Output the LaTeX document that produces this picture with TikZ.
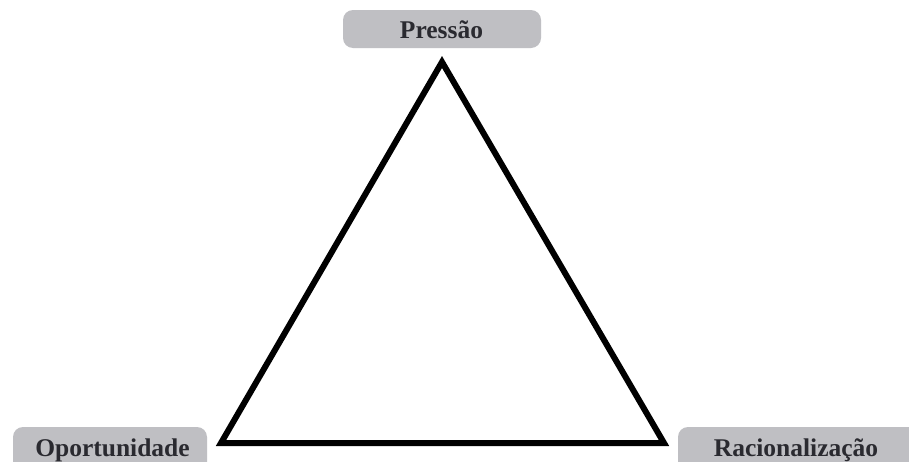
\documentclass[tikz,border=0pt]{standalone}
\usepackage{fontspec}
\setmainfont{Liberation Serif}
\definecolor{boxgray}{HTML}{BFBFC3}
\definecolor{txt}{HTML}{2A2A30}
\begin{document}
\begin{tikzpicture}[x=1pt,y=-1pt,
  labelbox/.style={fill=boxgray,rounded corners=10pt,draw=none},
  labeltext/.style={text=txt,font=\fontsize{25.5}{28}\selectfont\bfseries,inner sep=0pt,anchor=base}]
\useasboundingbox (0,0) rectangle (909,461);
\clip (0,0) rectangle (909,461);
\fill[white] (0,0) rectangle (909,461);
% label boxes
\path[labelbox] (343,10) rectangle (541,48);
\path[labelbox] (13,427) rectangle (207,475);
\path[labelbox] (678,427) rectangle (930,475);
\node[labeltext] (p) at (441.5,38.5) {Pressão};
\node[labeltext] (o) at (112.5,456) {Oportunidade};
\node[labeltext] (r) at (796,456) {Racionalização};
% triangle
\coordinate (A) at (442,62);
\coordinate (B) at (221,443);
\coordinate (C) at (664,443);
\draw[line width=6pt,line join=miter] (A) -- (B) -- (C) -- cycle;
\end{tikzpicture}
\end{document}
